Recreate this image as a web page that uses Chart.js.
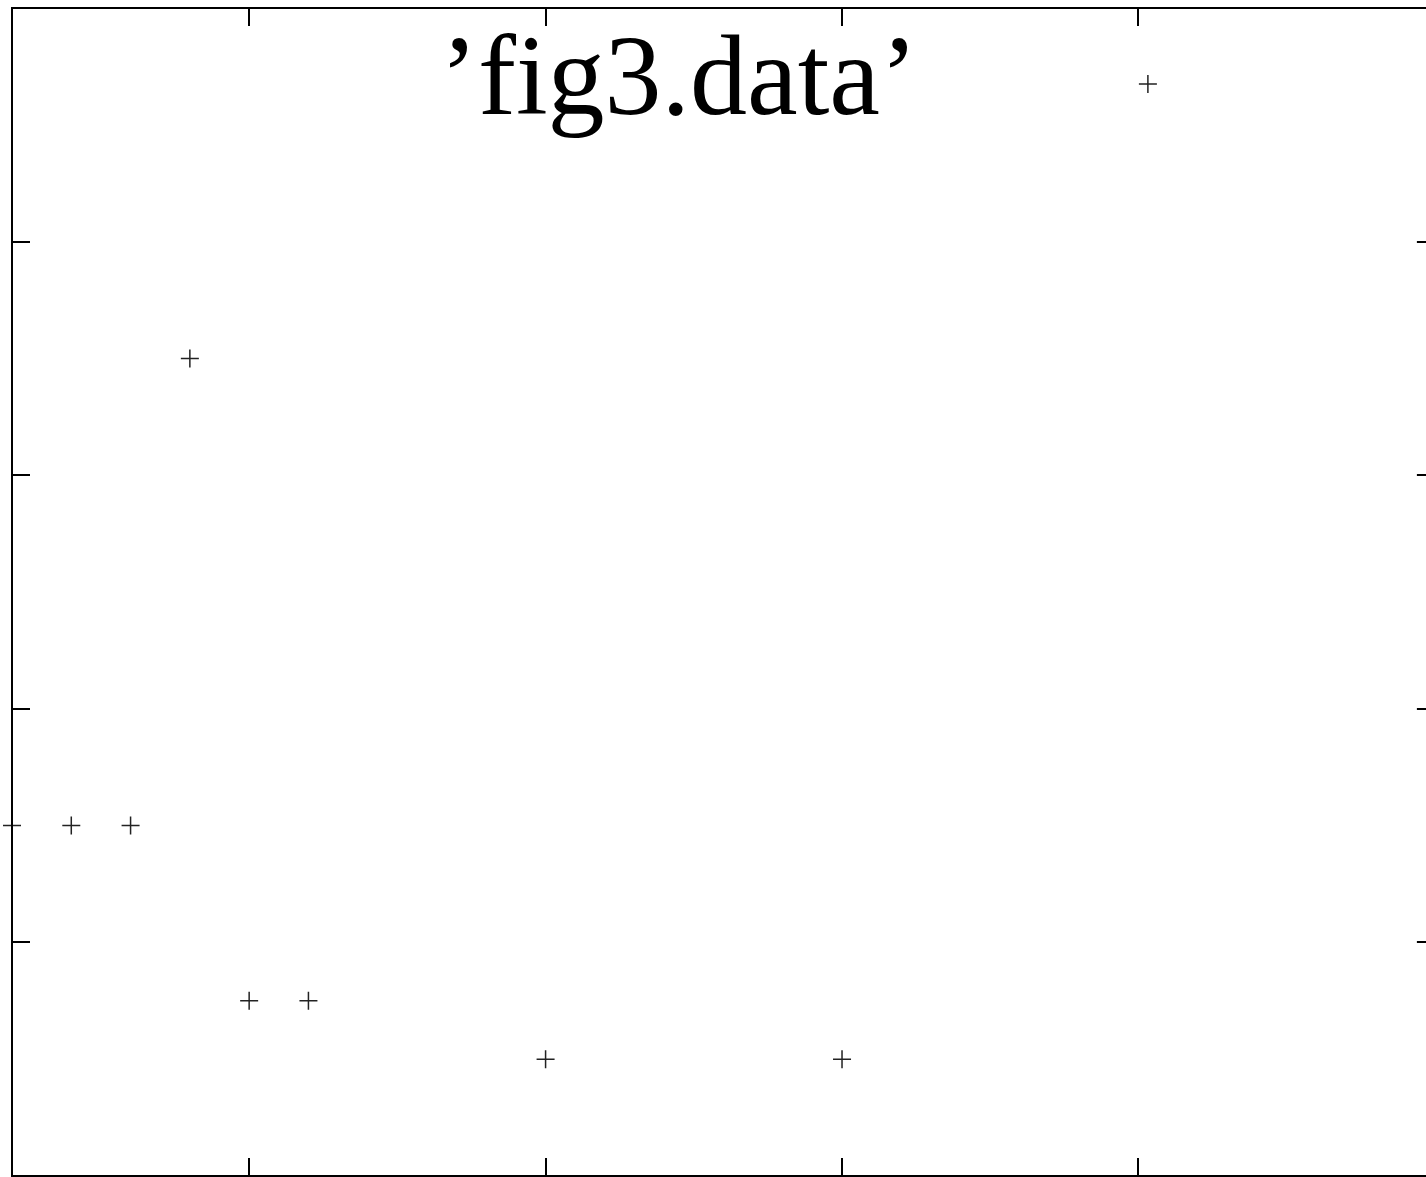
<!DOCTYPE html>
<html>
<head>
<meta charset="utf-8">
<script src="https://cdn.jsdelivr.net/npm/chart.js@4"></script>
<style>
  html, body { margin: 0; padding: 0; background: #fff; overflow: hidden; }
  canvas { display: block; }
</style>
</head>
<body>
<canvas id="myChart" width="1426" height="1177"></canvas>
<script>
// data
const xValues = [1, 2, 3, 4, 5, 6, 10, 15];
const yValues = [3, 3, 3, 7, 1.5, 1.5, 1, 1];
const xTicks = [5, 10, 15, 20];
const yTicks = [2, 4, 6, 8];
const xFrameMax = 25; // the plot frame ends at x=25, just past the visible edge
const keyLabel = "’fig3.data’";

const points = xValues.map((x, i) => ({ x: x, y: yValues[i] }));

// frame + inward ticks on all four sides, gnuplot style
const framePlugin = {
  id: "frame",
  afterDatasetsDraw(chart) {
    const ctx = chart.ctx;
    const a = chart.chartArea;
    const xs = chart.scales.x;
    const ys = chart.scales.y;
    const right = xs.getPixelForValue(xFrameMax);
    const len = 18;
    ctx.save();
    ctx.strokeStyle = "#000";
    ctx.lineWidth = 2;
    ctx.strokeRect(a.left, a.top, right - a.left, a.bottom - a.top);
    ctx.beginPath();
    xTicks.forEach((t) => {
      const px = Math.round(xs.getPixelForValue(t));
      ctx.moveTo(px, a.bottom);
      ctx.lineTo(px, a.bottom - len);
      ctx.moveTo(px, a.top);
      ctx.lineTo(px, a.top + len);
    });
    yTicks.forEach((t) => {
      const py = Math.round(ys.getPixelForValue(t));
      ctx.moveTo(a.left, py);
      ctx.lineTo(a.left + len, py);
      ctx.moveTo(right, py);
      ctx.lineTo(right - len, py);
    });
    ctx.stroke();

    // key: label + sample point
    const keyY = a.top + 76;
    const sampleX = right - 287;
    ctx.fillStyle = "#000";
    ctx.font = "114px 'Liberation Serif', 'DejaVu Serif', serif";
    ctx.textAlign = "right";
    ctx.textBaseline = "middle";
    ctx.fillText(keyLabel, sampleX - 230, keyY);
    ctx.strokeStyle = "#222";
    ctx.lineWidth = 1.5;
    ctx.beginPath();
    ctx.moveTo(sampleX - 9, keyY);
    ctx.lineTo(sampleX + 9, keyY);
    ctx.moveTo(sampleX, keyY - 9);
    ctx.lineTo(sampleX, keyY + 9);
    ctx.stroke();
    ctx.restore();
  },
};

const ctx = document.getElementById("myChart").getContext("2d");
new Chart(ctx, {
  type: "scatter",
  data: {
    datasets: [
      {
        label: keyLabel,
        data: points,
        pointStyle: "cross",
        pointRadius: 9,
        pointHoverRadius: 9,
        borderColor: "#222",
        backgroundColor: "#222",
        borderWidth: 1.5,
        clip: false,
      },
    ],
  },
  options: {
    responsive: false,
    animation: false,
    layout: { autoPadding: false, padding: { left: 12, top: 8, right: 0, bottom: 1 } },
    plugins: {
      legend: { display: false },
      tooltip: { enabled: false },
    },
    scales: {
      // visible window is cut a little short of the frame on the right
      x: { type: "linear", min: 1, max: 24.85, display: false },
      y: { type: "linear", min: 0, max: 10, display: false },
    },
  },
  plugins: [framePlugin],
});
</script>
</body>
</html>
